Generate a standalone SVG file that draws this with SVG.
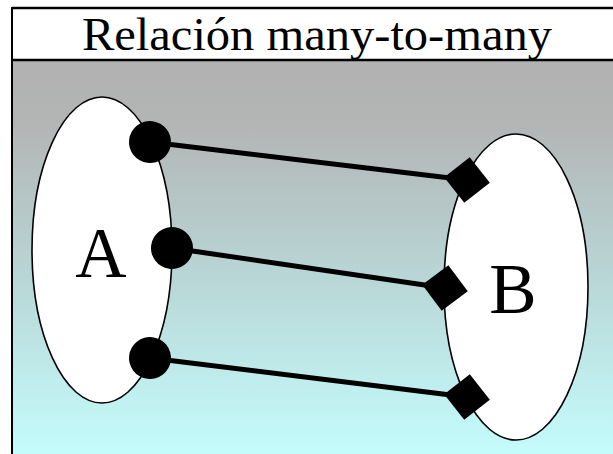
<svg xmlns="http://www.w3.org/2000/svg" width="613" height="454" viewBox="0 0 613 454">
  <style>
    .title { font-family: "Liberation Serif", "Times New Roman", serif; font-size: 47px; fill: #000; }
    .lbl { font-family: "Liberation Serif", "Times New Roman", serif; font-size: 71px; fill: #000; text-anchor: middle; }
    .set { fill: #ffffff; stroke: #000; stroke-width: 1.6; }
    .conn { stroke: #000; stroke-width: 5; fill: none; marker-start: url(#dot); marker-end: url(#dia); }
  </style>
  <defs>
    <linearGradient id="bg" x1="0" y1="61" x2="0" y2="454" gradientUnits="userSpaceOnUse">
      <stop offset="0" stop-color="#b2b2b2"/>
      <stop offset="0.15" stop-color="#b3b4b4"/>
      <stop offset="0.55" stop-color="#b9d6d6"/>
      <stop offset="1" stop-color="#c4fcfc"/>
    </linearGradient>
    <marker id="dot" markerUnits="userSpaceOnUse" markerWidth="46" markerHeight="46" viewBox="-23 -23 46 46" refX="0" refY="0" orient="auto">
      <circle r="21" fill="#000"/>
    </marker>
    <marker id="dia" markerUnits="userSpaceOnUse" markerWidth="50" markerHeight="50" viewBox="-25 -25 50 50" refX="0" refY="0" orient="auto">
      <polygon points="-23,0 0,-23 23,0 0,23" fill="#000"/>
    </marker>
  </defs>
  <rect x="0" y="0" width="613" height="454" fill="#ffffff"/>
  <g id="header">
    <rect x="12" y="8" width="601" height="52" fill="#ffffff"/>
    <text class="title" x="82" y="50" textLength="470" lengthAdjust="spacingAndGlyphs">Relación many-to-many</text>
  </g>
  <rect x="12" y="61" width="601" height="393" fill="url(#bg)"/>
  <line x1="12" y1="8" x2="613" y2="8" stroke="#000" stroke-width="2.5"/>
  <line x1="12" y1="60" x2="613" y2="60" stroke="#000" stroke-width="2.5"/>
  <line x1="12" y1="7" x2="12" y2="454" stroke="#000" stroke-width="2"/>
  <g id="setA">
    <ellipse class="set" cx="102" cy="250" rx="70" ry="153"/>
    <text class="lbl" x="101" y="277">A</text>
  </g>
  <g id="setB">
    <ellipse class="set" cx="516" cy="287" rx="72" ry="153"/>
    <text class="lbl" x="513" y="313">B</text>
  </g>
  <g id="connectors">
    <line class="conn" x1="150" y1="142" x2="467" y2="180"/>
    <line class="conn" x1="172" y1="248" x2="445" y2="288"/>
    <line class="conn" x1="150" y1="358" x2="467" y2="397"/>
  </g>
</svg>
